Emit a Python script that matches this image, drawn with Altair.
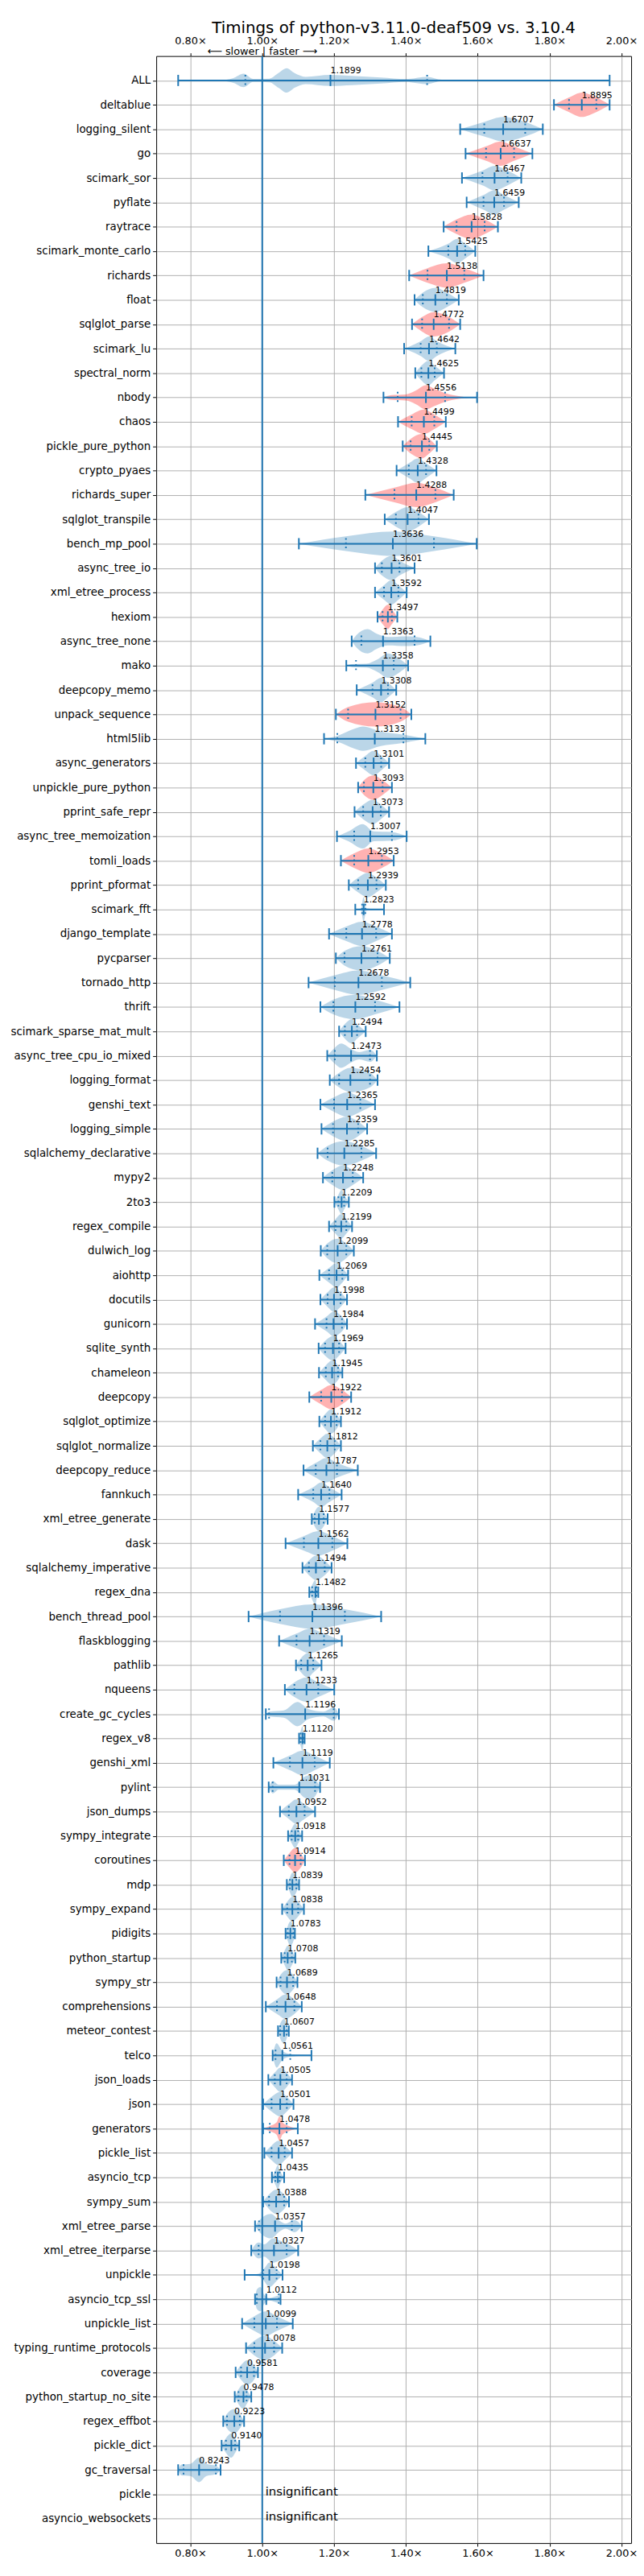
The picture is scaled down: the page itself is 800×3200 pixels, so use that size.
import json
import altair as alt
import pandas as pd

names = ["ALL", "deltablue", "logging_silent", "go", "scimark_sor", "pyflate", "raytrace",
         "scimark_monte_carlo", "richards", "float", "sqlglot_parse", "scimark_lu", "spectral_norm",
         "nbody", "chaos", "pickle_pure_python", "crypto_pyaes", "richards_super", "sqlglot_transpile",
         "bench_mp_pool", "async_tree_io", "xml_etree_process", "hexiom", "async_tree_none", "mako",
         "deepcopy_memo", "unpack_sequence", "html5lib", "async_generators", "unpickle_pure_python",
         "pprint_safe_repr", "async_tree_memoization", "tomli_loads", "pprint_pformat", "scimark_fft",
         "django_template", "pycparser", "tornado_http", "thrift", "scimark_sparse_mat_mult",
         "async_tree_cpu_io_mixed", "logging_format", "genshi_text", "logging_simple",
         "sqlalchemy_declarative", "mypy2", "2to3", "regex_compile", "dulwich_log", "aiohttp",
         "docutils", "gunicorn", "sqlite_synth", "chameleon", "deepcopy", "sqlglot_optimize",
         "sqlglot_normalize", "deepcopy_reduce", "fannkuch", "xml_etree_generate", "dask",
         "sqlalchemy_imperative", "regex_dna", "bench_thread_pool", "flaskblogging", "pathlib",
         "nqueens", "create_gc_cycles", "regex_v8", "genshi_xml", "pylint", "json_dumps",
         "sympy_integrate", "coroutines", "mdp", "sympy_expand", "pidigits", "python_startup",
         "sympy_str", "comprehensions", "meteor_contest", "telco", "json_loads", "json", "generators",
         "pickle_list", "asyncio_tcp", "sympy_sum", "xml_etree_parse", "xml_etree_iterparse",
         "unpickle", "asyncio_tcp_ssl", "unpickle_list", "typing_runtime_protocols", "coverage",
         "python_startup_no_site", "regex_effbot", "pickle_dict", "gc_traversal"]

insignificant = ["pickle", "asyncio_websockets"]

means = [1.1899, 1.8895, 1.6707, 1.6637, 1.6467, 1.6459, 1.5828, 1.5425, 1.5138, 1.4819,
         1.4772, 1.4642, 1.4625, 1.4556, 1.4499, 1.4445, 1.4328, 1.4288, 1.4047, 1.3636,
         1.3601, 1.3592, 1.3497, 1.3363, 1.3358, 1.3308, 1.3152, 1.3133, 1.3101, 1.3093,
         1.3073, 1.3007, 1.2953, 1.2939, 1.2823, 1.2778, 1.2761, 1.2678, 1.2592, 1.2494,
         1.2473, 1.2454, 1.2365, 1.2359, 1.2285, 1.2248, 1.2209, 1.2199, 1.2099, 1.2069,
         1.1998, 1.1984, 1.1969, 1.1945, 1.1922, 1.1912, 1.1812, 1.1787, 1.1640, 1.1577,
         1.1562, 1.1494, 1.1482, 1.1396, 1.1319, 1.1265, 1.1233, 1.1196, 1.1120, 1.1119,
         1.1031, 1.0952, 1.0918, 1.0914, 1.0839, 1.0838, 1.0783, 1.0708, 1.0689, 1.0648,
         1.0607, 1.0561, 1.0505, 1.0501, 1.0478, 1.0457, 1.0435, 1.0388, 1.0357, 1.0327,
         1.0198, 1.0112, 1.0099, 1.0078, 0.9581, 0.9478, 0.9223, 0.9140, 0.8243]

mins = [0.766, 1.812, 1.551, 1.566, 1.556, 1.569, 1.505, 1.4625, 1.409, 1.424,
        1.417, 1.395, 1.426, 1.3375, 1.378, 1.391, 1.374, 1.287, 1.341, 1.102,
        1.314, 1.314, 1.321, 1.249, 1.234, 1.263, 1.205, 1.172, 1.261, 1.267,
        1.257, 1.208, 1.219, 1.241, 1.259, 1.186, 1.205, 1.129, 1.162, 1.214,
        1.181, 1.188, 1.162, 1.165, 1.154, 1.169, 1.201, 1.186, 1.163, 1.159,
        1.162, 1.147, 1.157, 1.158, 1.131, 1.159, 1.141, 1.115, 1.100, 1.138,
        1.065, 1.112, 1.131, 0.962, 1.047, 1.094, 1.063, 1.010, 1.1025, 1.031,
        1.018, 1.0495, 1.072, 1.060, 1.0685, 1.0555, 1.065, 1.053, 1.040, 1.010,
        1.044, 1.029, 1.017, 1.0025, 1.0025, 1.006, 1.027, 1.0025, 0.980, 0.9695,
        0.951, 0.980, 0.944, 0.955, 0.926, 0.9235, 0.8915, 0.887, 0.766]

maxs = [1.967, 1.967, 1.781, 1.752, 1.721, 1.714, 1.656, 1.593, 1.616, 1.547,
        1.551, 1.5375, 1.506, 1.598, 1.511, 1.486, 1.485, 1.533, 1.464, 1.597,
        1.424, 1.402, 1.376, 1.468, 1.406, 1.373, 1.415, 1.454, 1.353, 1.361,
        1.353, 1.402, 1.366, 1.344, 1.339, 1.361, 1.355, 1.412, 1.382, 1.288,
        1.319, 1.321, 1.314, 1.292, 1.317, 1.281, 1.241, 1.250, 1.255, 1.239,
        1.236, 1.236, 1.232, 1.223, 1.2475, 1.219, 1.219, 1.266, 1.221, 1.182,
        1.237, 1.193, 1.156, 1.331, 1.2215, 1.165, 1.2005, 1.2135, 1.118, 1.188,
        1.161, 1.147, 1.111, 1.119, 1.1025, 1.116, 1.091, 1.092, 1.098, 1.110,
        1.074, 1.137, 1.083, 1.087, 1.099, 1.083, 1.061, 1.0745, 1.110, 1.100,
        1.0565, 1.051, 1.085, 1.0555, 0.988, 0.9695, 0.9495, 0.936, 0.884]

q_lo = [0.953, 1.854, 1.618, 1.623, 1.613, 1.616, 1.541, 1.518, 1.460, 1.447,
        1.445, 1.441, 1.443, 1.377, 1.416, 1.413, 1.408, 1.368, 1.372, 1.233,
        1.333, 1.339, 1.335, 1.276, 1.261, 1.307, 1.239, 1.209, 1.287, 1.283,
        1.281, 1.256, 1.256, 1.267, 1.278, 1.234, 1.229, 1.202, 1.198, 1.230,
        1.202, 1.214, 1.200, 1.197, 1.182, 1.195, 1.212, 1.204, 1.181, 1.186,
        1.182, 1.179, 1.175, 1.177, 1.164, 1.175, 1.162, 1.149, 1.142, 1.146,
        1.116, 1.130, 1.139, 1.0495, 1.0955, 1.1085, 1.0895, 1.019, 1.107, 1.077,
        1.029, 1.074, 1.082, 1.076, 1.077, 1.0695, 1.071, 1.0625, 1.051, 1.041,
        1.050, 1.037, 1.035, 1.026, 1.021, 1.026, 1.0365, 1.019, 0.991, 0.990,
        1.003, 0.985, 0.978, 0.978, 0.941, 0.934, 0.902, 0.899, 0.781]

q_hi = [1.459, 1.930, 1.732, 1.701, 1.683, 1.673, 1.619, 1.565, 1.5625, 1.514,
        1.520, 1.486, 1.480, 1.509, 1.479, 1.465, 1.456, 1.482, 1.435, 1.478,
        1.382, 1.379, 1.361, 1.424, 1.366, 1.350, 1.385, 1.393, 1.331, 1.335,
        1.330, 1.361, 1.333, 1.318, 1.287, 1.317, 1.321, 1.333, 1.314, 1.264,
        1.300, 1.300, 1.273, 1.267, 1.276, 1.252, 1.228, 1.234, 1.234, 1.223,
        1.218, 1.222, 1.214, 1.211, 1.222, 1.207, 1.202, 1.208, 1.187, 1.171,
        1.195, 1.174, 1.151, 1.230, 1.172, 1.142, 1.156, 1.199, 1.114, 1.146,
        1.147, 1.118, 1.100, 1.107, 1.095, 1.100, 1.087, 1.0825, 1.086, 1.0895,
        1.068, 1.078, 1.068, 1.0685, 1.068, 1.0625, 1.0485, 1.061, 1.0825, 1.068,
        1.040, 1.046, 1.041, 1.033, 0.977, 0.9565, 0.9375, 0.9245, 0.871]

red_names = ["deltablue", "go", "raytrace", "richards", "sqlglot_parse", "nbody", "chaos",
             "pickle_pure_python", "richards_super", "hexiom", "unpack_sequence",
             "unpickle_pure_python", "tomli_loads", "deepcopy", "coroutines", "generators"]

# violin outlines: (ratio, relative half-width)
profiles = {
    "ALL": [(0.766, 0), (0.88, 0.02), (0.92, 0.2), (0.948, 0.55), (0.975, 0.12), (1.02, 0.15),
            (1.045, 0.6), (1.068, 1.0), (1.09, 0.6), (1.12, 0.3), (1.19, 0.45), (1.25, 0.38),
            (1.33, 0.25), (1.40, 0.12), (1.459, 0.3), (1.50, 0.06), (1.65, 0.04), (1.967, 0)],
    "nbody": [(1.3375, 0), (1.36, 0.2), (1.40, 0.25), (1.43, 0.6), (1.455, 1.0), (1.48, 0.7),
              (1.51, 0.35), (1.55, 0.1), (1.598, 0)],
    "async_tree_none": [(1.249, 0), (1.262, 0.5), (1.293, 1.0), (1.32, 0.6), (1.35, 0.35),
                        (1.40, 0.4), (1.43, 0.35), (1.468, 0)],
    "mako": [(1.234, 0), (1.25, 0.12), (1.29, 0.15), (1.32, 0.5), (1.35, 1.0), (1.38, 0.6), (1.406, 0)],
    "html5lib": [(1.172, 0), (1.21, 0.25), (1.26, 0.85), (1.28, 1.0), (1.33, 0.6), (1.39, 0.35), (1.454, 0)],
    "async_tree_memoization": [(1.208, 0), (1.24, 0.4), (1.28, 1.0), (1.31, 0.4), (1.36, 0.35), (1.402, 0)],
    "scimark_fft": [(1.259, 0), (1.275, 0.1), (1.282, 1.0), (1.29, 0.1), (1.339, 0)],
    "async_tree_cpu_io_mixed": [(1.181, 0), (1.20, 0.6), (1.22, 1.0), (1.245, 0.6), (1.27, 0.3),
                                (1.30, 0.5), (1.319, 0)],
    "create_gc_cycles": [(1.010, 0), (1.02, 0.2), (1.06, 0.3), (1.098, 1.0), (1.13, 0.4),
                         (1.17, 0.2), (1.199, 0.55), (1.2135, 0)],
    "pylint": [(1.018, 0), (1.03, 0.5), (1.045, 0.2), (1.09, 0.2), (1.12, 0.9), (1.135, 1.0), (1.161, 0)],
    "telco": [(1.029, 0), (1.04, 1.0), (1.055, 0.4), (1.08, 0.1), (1.137, 0)],
    "generators": [(1.0025, 0), (1.02, 0.2), (1.04, 0.5), (1.048, 1.0), (1.056, 0.5), (1.075, 0.2), (1.099, 0)],
    "xml_etree_parse": [(0.980, 0), (0.99, 0.4), (1.024, 1.0), (1.05, 0.4), (1.065, 0.2), (1.09, 0.5), (1.110, 0)],
    "xml_etree_iterparse": [(0.9695, 0), (0.99, 0.65), (1.005, 0.5), (1.03, 1.0), (1.05, 0.8),
                            (1.068, 0.6), (1.100, 0)],
    "unpickle": [(0.951, 0), (0.99, 0.1), (1.005, 0.5), (1.02, 1.0), (1.04, 0.5), (1.0565, 0)],
    "asyncio_tcp_ssl": [(0.980, 0), (0.985, 0.8), (0.995, 1.0), (1.005, 0.4), (1.02, 0.1),
                        (1.046, 0.3), (1.051, 0)],
    "gc_traversal": [(0.766, 0), (0.775, 0.45), (0.80, 0.5), (0.824, 1.0), (0.845, 0.5),
                     (0.871, 0.35), (0.884, 0)],
}

all_names = names + insignificant
HW = 0.5     # violin half-height (rows)
CAP = 0.23   # half-length of the end / mean ticks (rows)
BLUE = "#1f77b4"

xscale = alt.Scale(domain=[0.705, 2.027], nice=False, zero=False)
yscale = alt.Scale(domain=[0, 102], reverse=True, nice=False, zero=False)

vrecs, stats, ticks = [], [], []
for i, n in enumerate(names):
    row = i + 1
    prof = profiles.get(n) or [(mins[i], 0), (q_lo[i], 0.6), (means[i], 1.0), (q_hi[i], 0.6), (maxs[i], 0)]
    last = -10
    for (x, w) in prof:
        if x <= last:
            x = last + 1e-4
        last = x
        vrecs.append(dict(name=n, x=x, y=row - w * HW, y2=row + w * HW,
                          kind="red" if n in red_names else "blue"))
    stats.append(dict(name=n, row=row, mean=means[i], mn=mins[i], mx=maxs[i],
                      label=f"{means[i]:.4f}", ty=row - 0.28))
    for v, style in [(mins[i], "solid"), (maxs[i], "solid"), (means[i], "solid"),
                     (q_lo[i], "dot"), (q_hi[i], "dot")]:
        ticks.append(dict(name=n, x=v, y=row - CAP, y2=row + CAP, style=style))

vdf = pd.DataFrame(vrecs)
sdf = pd.DataFrame(stats)
tdf = pd.DataFrame(ticks)
idf = pd.DataFrame(dict(name=insignificant,
                        row=[len(names) + 1 + k for k in range(len(insignificant))],
                        base=[1.0] * len(insignificant),
                        t=["insignificant"] * len(insignificant)))
idf["ty"] = idf["row"] - 0.1

# row-label lookup table for the y axis
rows_df = pd.DataFrame({"row": list(range(1, len(all_names) + 1)), "name": all_names})
label_expr = "+datum.value >= 1 && +datum.value <= %d ? %s[round(datum.value) - 1] : ''" % (
    len(all_names), json.dumps(all_names))

x_vals = [0.8, 1.0, 1.2, 1.4, 1.6, 1.8, 2.0]
xlab = "format(datum.value, '.2f') + '×'"

yaxis = alt.Axis(values=list(range(1, len(all_names) + 1)), labelExpr=label_expr,
                 grid=True, gridColor="#b0b0b0", gridWidth=1, tickSize=4.5,
                 labelFontSize=13.5, labelPadding=3, labelLimit=400, domain=False,
                 tickColor="black", labelColor="black", minExtent=188, maxExtent=188,
                 orient="left")

# invisible carrier of the y axis (one tick per row)
ycarrier = alt.Chart(rows_df).mark_tick(opacity=0).encode(
    y=alt.Y("row:Q", scale=yscale, title=None, axis=yaxis),
)

violins = alt.Chart(vdf).mark_area(interpolate="monotone", opacity=0.3).encode(
    x=alt.X("x:Q", scale=xscale, title=None,
            axis=alt.Axis(orient="bottom", values=x_vals, labelExpr=xlab, grid=True,
                          gridColor="#b0b0b0", gridWidth=1, tickSize=4, labelPadding=3,
                          labelFontSize=13, domain=False, tickColor="black", labelColor="black")),
    y=alt.Y("y:Q", scale=yscale, axis=None, stack=None),
    y2="y2:Q",
    detail="name:N",
    color=alt.Color("kind:N", scale=alt.Scale(domain=["blue", "red"], range=[BLUE, "#ff0000"]), legend=None),
)

extrema = alt.Chart(sdf).mark_rule(color=BLUE, strokeWidth=2).encode(
    x=alt.X("mn:Q", scale=xscale, axis=None),
    x2="mx:Q",
    y=alt.Y("row:Q", scale=yscale, axis=None),
)

solid_ticks = alt.Chart(tdf).transform_filter("datum.style == 'solid'").mark_rule(
    color=BLUE, strokeWidth=2).encode(
    x=alt.X("x:Q", scale=xscale, axis=None),
    y=alt.Y("y:Q", scale=yscale, axis=None),
    y2="y2:Q",
)

dot_ticks = alt.Chart(tdf).transform_filter("datum.style == 'dot'").mark_rule(
    color=BLUE, strokeWidth=2, strokeDash=[2, 3.3]).encode(
    x=alt.X("x:Q", scale=xscale, axis=None),
    y=alt.Y("y:Q", scale=yscale, axis=None),
    y2="y2:Q",
)

baseline = alt.Chart(pd.DataFrame({"v": [1.0]})).mark_rule(color=BLUE, strokeWidth=2).encode(
    x=alt.X("v:Q", scale=xscale, axis=None),
)

labels = alt.Chart(sdf).mark_text(align="left", baseline="alphabetic", fontSize=11,
                                  color="black").encode(
    x=alt.X("mean:Q", scale=xscale, title=None,
            axis=alt.Axis(orient="top", values=x_vals, labelExpr=xlab, grid=False,
                          tickSize=4, labelPadding=8, labelFontSize=13, domain=False,
                          tickColor="black", labelColor="black")),
    y=alt.Y("ty:Q", scale=yscale, axis=None),
    text="label:N",
)

insig = alt.Chart(idf).mark_text(align="left", baseline="middle", fontSize=15, dx=4,
                                 color="black").encode(
    x=alt.X("base:Q", scale=xscale, axis=None),
    y=alt.Y("ty:Q", scale=yscale, axis=None),
    text="t:N",
)

direction = alt.Chart(pd.DataFrame({"v": [1.0], "r": [-0.06], "t": ["⟵ slower | faster ⟶"]})).mark_text(
    align="center", baseline="alphabetic", fontSize=13, color="black").encode(
    x=alt.X("v:Q", scale=xscale, axis=None),
    y=alt.Y("r:Q", scale=yscale, axis=None),
    text="t:N",
)

chart = alt.layer(ycarrier, violins, extrema, solid_ticks, dot_ticks, baseline, labels, insig,
                  direction).resolve_axis(
    x="independent", y="independent"
).properties(
    width=596,
    height=3121,
    padding={"left": 0, "top": 1, "right": 0, "bottom": 0},
    title=alt.TitleParams("Timings of python-v3.11.0-deaf509 vs. 3.10.4", fontSize=20,
                          fontWeight="normal", color="black", anchor="middle", offset=0),
).configure(
    font="DejaVu Sans",
).configure_view(
    stroke="black", strokeWidth=1,
)

chart.save("out.html", embed_options={"renderer": "svg", "actions": False})
